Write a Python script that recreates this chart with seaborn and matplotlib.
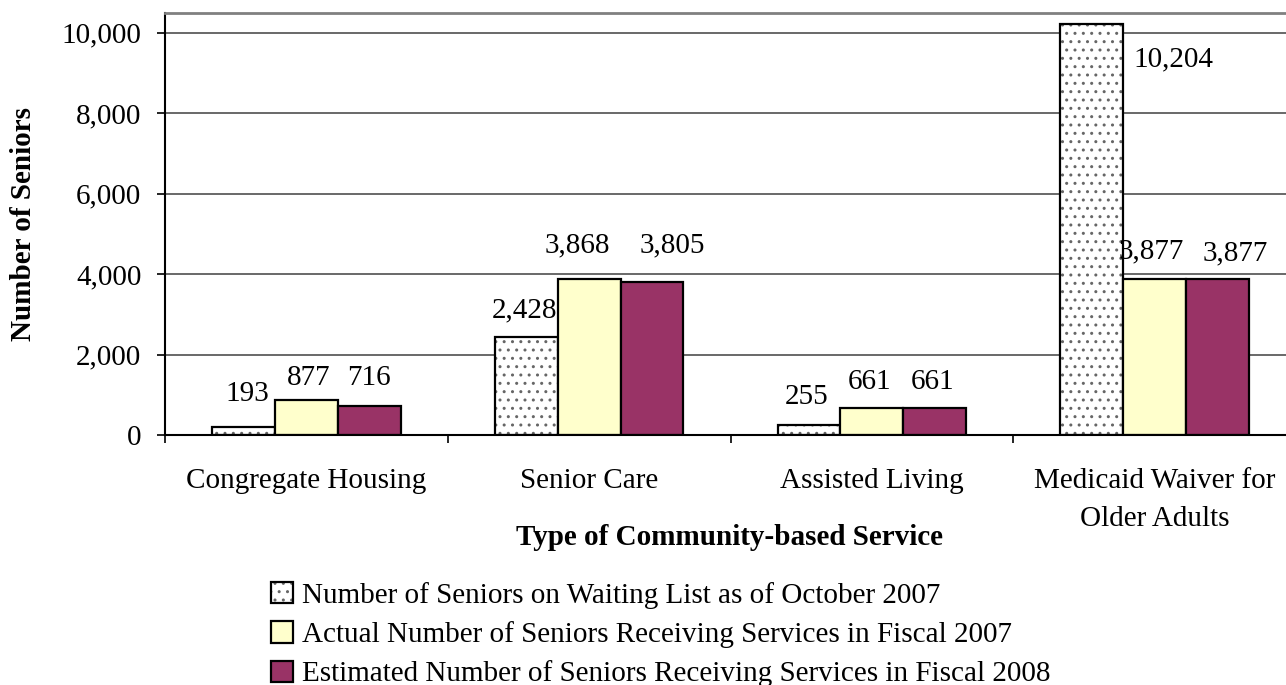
import pandas as pd
import matplotlib.pyplot as plt
import matplotlib.ticker as mticker
import seaborn as sns

# values
services = ["Congregate Housing", "Senior Care", "Assisted Living",
            "Medicaid Waiver for\nOlder Adults"]
series = ["Number of Seniors on Waiting List as of October 2007",
          "Actual Number of Seniors Receiving Services in Fiscal 2007",
          "Estimated Number of Seniors Receiving Services in Fiscal 2008"]
waiting_2007 = [193, 2428, 255, 10204]
actual_2007 = [877, 3868, 661, 3877]
estimated_2008 = [716, 3805, 661, 3877]
y_ticks = [0, 2000, 4000, 6000, 8000, 10000]

colors = ["#FFFFFF", "#FFFFCC", "#993366"]
# hand placement of the data labels (pixels from bar top centre), per series / service
label_offsets = [
    [(4, 33), (-2, 27), (-2, 28), (82, -35)],
    [(2, 22), (-12, 34), (-2, 26), (-3, 28)],
    [(0, 28), (20, 37), (-2, 26), (18, 26)],
]

FS = 21


def main():
    df = pd.DataFrame({
        "service": services * 3,
        "seniors": waiting_2007 + actual_2007 + estimated_2008,
        "series": [s for s in series for _ in services],
    })

    sns.set_style("white")
    plt.rcParams["font.family"] = ["Liberation Serif", "DejaVu Serif"]
    plt.rcParams["hatch.linewidth"] = 1.0
    for key in ["text.color", "axes.labelcolor", "xtick.color", "ytick.color"]:
        plt.rcParams[key] = "black"

    fig = plt.figure(figsize=(12.86, 6.85), dpi=100)
    ax = fig.add_axes([165 / 1286, 250 / 685, 1131 / 1286, 422.5 / 685])

    sns.barplot(data=df, x="service", y="seniors", hue="series",
                palette=colors, width=0.667, gap=0, edgecolor="black",
                linewidth=1.6, saturation=1, legend=False, ax=ax)

    # dotted fill for the waiting-list bars, dots in grey
    for p in ax.containers[0].patches:
        p.set_hatch("..")
        p._hatch_color = (0.4, 0.4, 0.4, 1)

    # data labels
    for i, cont in enumerate(ax.containers):
        for j, p in enumerate(cont.patches):
            v = p.get_height()
            dx, dy = label_offsets[i][j]
            ax.annotate(f"{v:,.0f}", (p.get_x() + p.get_width() / 2, v),
                        xytext=(dx, dy), textcoords="offset pixels",
                        ha="center", va="center", fontsize=FS)

    ax.set_ylim(0, 10500)
    ax.set_xlim(-0.5, 3.5)
    ax.set_yticks(y_ticks)
    ax.yaxis.set_major_formatter(mticker.StrMethodFormatter("{x:,.0f}"))
    ax.yaxis.grid(True, color="#404040", linewidth=1.1)
    ax.set_axisbelow(True)

    ax.tick_params(axis="y", direction="out", length=6, width=1.2,
                   pad=11, labelsize=FS, left=True, color="black")
    ax.tick_params(axis="x", which="major", length=0, pad=24, labelsize=FS)
    ax.set_xticks([-0.5, 0.5, 1.5, 2.5, 3.5], minor=True)
    ax.tick_params(axis="x", which="minor", direction="out", length=6,
                   width=1.2, bottom=True, color="black")
    for lbl in ax.get_xticklabels():
        lbl.set_linespacing(1.6)

    for side in ["left", "bottom"]:
        ax.spines[side].set_color("black")
        ax.spines[side].set_linewidth(1.5)
    ax.spines["top"].set_color("#808080")
    ax.spines["top"].set_linewidth(2)
    ax.spines["right"].set_visible(False)

    ax.set_xlabel("Type of Community-based Service", fontsize=FS,
                  fontweight="bold")
    ax.set_ylabel("Number of Seniors", fontsize=FS, fontweight="bold")
    ax.xaxis.set_label_coords(565 / 1131, -89 / 422.5)
    ax.yaxis.set_label_coords(-128 / 1131, 0.5)

    handles = [c.patches[0] for c in ax.containers]
    fig.legend(handles, series, loc="upper left",
               bbox_to_anchor=(271 / 1286, 1 - 582 / 685), frameon=False,
               fontsize=FS, handlelength=0.75, handleheight=0.75,
               handletextpad=0.3, labelspacing=0.42, borderpad=0,
               borderaxespad=0)

    fig.savefig("out.png", dpi=100)


if __name__ == "__main__":
    main()
